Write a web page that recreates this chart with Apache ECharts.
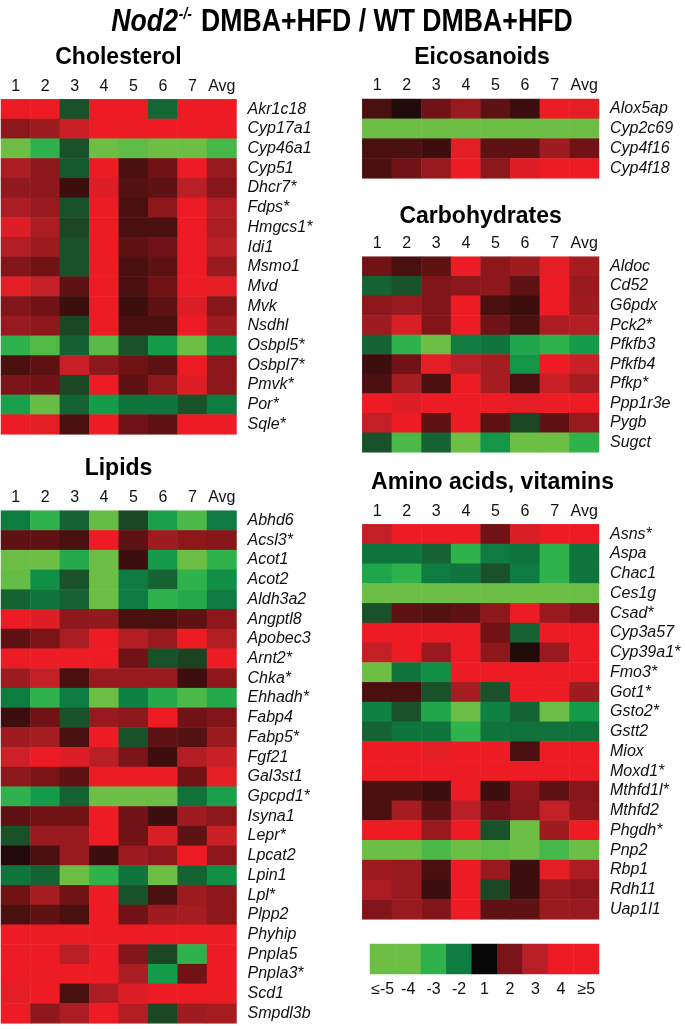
<!DOCTYPE html>
<html><head><meta charset="utf-8">
<script src="https://cdn.jsdelivr.net/npm/echarts@6.0.0/dist/echarts.min.js"></script>
<style>html,body{margin:0;padding:0;background:#fff}#c{width:685px;height:1029px}</style>
</head><body><div id="c"></div>
<script>
// ---- data (fold change readings, Nod2-/- vs WT) ----
const columns = ['1','2','3','4','5','6','7','Avg'];
const legendTicks = ['≤-5','-4','-3','-2','1','2','3','4','≥5'];
const legendValues = [-5,-4,-3,-2,1,2,3,4,5];

const cholGenes = ['Akr1c18','Cyp17a1','Cyp46a1','Cyp51','Dhcr7*','Fdps*','Hmgcs1*','Idi1','Msmo1','Mvd','Mvk','Nsdhl','Osbpl5*','Osbpl7*','Pmvk*','Por*','Sqle*'];
const cholValues = [
 [5,5,-0.8,5,5,-1.4,5,5],
 [2.3,2.6,3.3,5,5,5,5,5],
 [-5,-3,-0.8,-5,-3.8,-5,-5,-3.4],
 [2.8,2.3,-1.0,5,1.5,1.9,5,2.5],
 [2.4,2.3,1.4,3.7,1.6,1.7,3,2.2],
 [2.8,2.5,-0.8,5,1.5,2.3,5,2.9],
 [3.7,2.8,-0.5,5,1.5,1.5,5,2.8],
 [2.9,2.6,-0.8,5,1.7,1.9,5,3],
 [2.1,1.9,-0.8,5,1.5,1.7,5,2.5],
 [3.8,3.2,1.7,5,1.5,1.9,5,3.8],
 [2.1,1.9,1.4,5,1.4,1.7,3.7,2.2],
 [2.5,2.3,-0.5,5,1.5,1.5,5,2.6],
 [-3,-3.6,-1.2,-3.7,-0.8,-2.5,-5,-2.3],
 [1.5,1.7,3.3,2.3,1.9,1.7,5,2.3],
 [2,1.9,-0.5,5,1.7,2.3,3.7,2.3],
 [-2.6,-3.9,-1.3,-2.5,-1.8,-1.8,-0.8,-2],
 [5,3.8,1.5,5,1.9,1.7,5,5]
];

const lipidGenes = ['Abhd6','Acsl3*','Acot1','Acot2','Aldh3a2','Angptl8','Apobec3','Arnt2*','Chka*','Ehhadh*','Fabp4','Fabp5*','Fgf21','Gal3st1','Gpcpd1*','Isyna1','Lepr*','Lpcat2','Lpin1','Lpl*','Plpp2','Phyhip','Pnpla5','Pnpla3*','Scd1','Smpdl3b'];
const lipidValues = [
 [-2,-3,-1.3,-3.9,-0.5,-2.6,-3.5,-2],
 [1.7,1.7,1.5,5,1.7,2.6,2.3,2.2],
 [-5,-5,-2.8,-5,1.4,-2.5,-4.5,-3],
 [-3.9,-2.3,-0.8,-5,-2,-1.3,-3,-2.3],
 [-1.3,-1.8,-1.3,-5,-2,-3,-2.8,-2],
 [5,3.7,2.3,2.4,1.5,1.5,1.7,2.3],
 [1.7,2,2.8,5,2.9,2.5,5,2.9],
 [5,5,5,5,1.9,-0.8,-0.4,5],
 [2.6,3.2,1.5,2.5,2.5,2.5,1.4,2.3],
 [-2,-3,-2,-5,-2.1,-2.8,-3.5,-2.8],
 [1.4,1.9,-0.8,2.5,2.3,5,1.9,2.1],
 [2.6,2.7,1.5,5,-0.8,1.7,1.6,2.5],
 [3.4,5,3.7,3,2,1.4,2.9,3.3],
 [2.3,2,1.7,5,5,5,1.9,3.8],
 [-3,-2.5,-1.3,-5,-5,-5,-1.7,-2.6],
 [1.7,1.9,1.9,5,1.9,1.4,2.6,2.3],
 [-0.8,2.5,2.5,5,1.9,3.6,1.7,3.3],
 [1.2,1.5,2.5,1.4,2.6,2.3,5,2.3],
 [-1.8,-1.3,-5,-3,-1.8,-5,-1.3,-2.3],
 [1.9,2.7,1.9,5,-0.8,1.5,2.6,2.3],
 [1.5,1.7,1.5,5,1.9,2.6,2.7,2.3],
 [5,5,5,5,5,5,5,5],
 [5,5,3,5,2.1,-0.5,-3,5],
 [5,5,5,5,2.8,-2.5,1.9,5],
 [3.8,5,1.5,2.8,3.7,5,5,5],
 [5,2.3,2.8,5,2.9,-0.5,2.6,2.7]
];

const eicoGenes = ['Alox5ap','Cyp2c69','Cyp4f16','Cyp4f18'];
const eicoValues = [
 [1.5,1.2,1.9,2.5,1.7,1.4,5,3.8],
 [-5,-5,-5,-5,-5,-5,-5,-5],
 [1.5,1.5,1.4,3.8,1.7,1.7,2.6,1.9],
 [1.5,1.9,2.5,5,2.3,3.7,5,5]
];

const carbGenes = ['Aldoc','Cd52','G6pdx','Pck2*','Pfkfb3','Pfkfb4','Pfkp*','Ppp1r3e','Pygb','Sugct'];
const carbValues = [
 [1.9,1.5,1.7,5,2.3,2.6,3.8,2.7],
 [-1.3,-0.8,2.1,2.3,2.3,1.7,5,2.5],
 [2.3,2.5,2.1,5,1.5,1.4,5,2.6],
 [2.6,3.6,2.1,5,1.9,1.5,2.8,2.9],
 [-1.3,-3,-5,-2,-1.8,-2.7,-3,-2.5],
 [1.4,1.9,3.8,3,2.7,-2.4,5,3.3],
 [1.5,2.7,1.5,5,2.7,1.5,3.3,2.7],
 [5,3.7,5,5,5,3.8,5,5],
 [3.2,5,1.7,5,1.7,-0.5,1.7,2.5],
 [-0.8,-3.5,-1.3,-5,-2.4,-5,-5,-3]
];

const aminoGenes = ['Asns*','Aspa','Chac1','Ces1g','Csad*','Cyp3a57','Cyp39a1*','Fmo3*','Got1*','Gsto2*','Gstt2','Miox','Moxd1*','Mthfd1l*','Mthfd2','Phgdh*','Pnp2','Rbp1','Rdh11','Uap1l1'];
const aminoValues = [
 [3.2,5,5,5,1.9,3.6,5,5],
 [-1.8,-1.8,-1.3,-3,-2,-1.8,-3,-1.8],
 [-2.7,-3,-2,-1.8,-0.8,-2,-3,-1.8],
 [-5,-5,-5,-5,-5,-5,-5,-5],
 [-0.8,1.7,1.6,1.7,2.3,5,2.5,2.1],
 [5,5,5,5,1.9,-1.3,5,5],
 [3.2,5,2.5,5,2.3,1.2,2.5,5],
 [-5,-1.8,-2.3,5,5,5,5,5],
 [1.5,1.5,-0.8,2.7,-0.8,5,5,2.6],
 [-2.1,-0.8,-2.7,-5,-2.1,-1.3,-5,-2.5],
 [-1.3,-1.8,-1.8,-3,-1.8,-1.7,-1.7,-1.7],
 [5,5,3.8,5,5,1.5,5,5],
 [5,5,5,5,5,5,5,5],
 [1.5,1.5,1.4,5,1.4,2.3,1.7,2.2],
 [1.5,2.7,1.7,3,1.9,2.2,3.2,2.3],
 [5,5,2.5,5,-0.8,-5,2.6,5],
 [-5,-5,-3.5,-5,-3.8,-5,-3.4,-5],
 [2.6,2.5,1.5,5,2.5,1.4,3.8,2.8],
 [2.8,2.5,1.4,5,-0.5,1.4,2.5,2.3],
 [2.1,2.5,2.1,5,1.7,1.7,2.5,2.5]
];

// ---- layout / style ----
const FONT = '"Liberation Sans", Arial, sans-serif';
// colour stops at every half step of the evenly spaced legend scale (0..8)
const scaleColors = ['#6cbe45','#6cbe45','#6cbe45','#4cb848','#2fb24b','#159c4a','#0e7c41','#1c4724','#060606',
                     '#4a1010','#7b1418','#981a1e','#b81f26','#d42027','#ed1c24','#ed1c24','#ed1c24'];
// position of a fold-change value on the evenly spaced legend scale (0..8)
function toSlot(f){
  if (f >= 1) return Math.min(8, f + 3);
  if (f <= -2) return Math.max(0, f + 5);
  return 3 + (f + 2) / 3;
}

const panels = [
  {title:'Cholesterol', genes:cholGenes, values:cholValues, box:[1,99.3,235.5,335], tx:118.5, ty:58},
  {title:'Lipids', genes:lipidGenes, values:lipidValues, box:[1,510.7,235.5,512.6], tx:118.5, ty:469},
  {title:'Eicosanoids', genes:eicoGenes, values:eicoValues, box:[362.3,99,236.7,79.3], tx:482, ty:58},
  {title:'Carbohydrates', genes:carbGenes, values:carbValues, box:[362.3,256.7,236.7,195.6], tx:480.6, ty:216.7},
  {title:'Amino acids, vitamins', genes:aminoGenes, values:aminoValues, box:[362.3,524.3,236.7,395], tx:492.5, ty:482.7}
];
const legendBox = [370,944,229,30];

const grids = [], xAxes = [], yAxes = [], series = [], graphics = [];
panels.forEach((p, i) => {
  grids.push({left:p.box[0], top:p.box[1], width:p.box[2], height:p.box[3]});
  xAxes.push({type:'category', gridIndex:i, data:columns, position:'top',
    axisLine:{show:false}, axisTick:{show:false}, splitLine:{show:false},
    axisLabel:{fontSize:16, color:'#111', margin:5, fontFamily:FONT, interval:0}});
  yAxes.push({type:'category', gridIndex:i, data:p.genes, inverse:true, position:'right',
    axisLine:{show:false}, axisTick:{show:false}, splitLine:{show:false},
    axisLabel:{fontSize:16, fontStyle:'italic', color:'#111', margin:11, fontFamily:FONT, interval:0}});
  const data = [];
  p.values.forEach((row, r) => row.forEach((v, c) => data.push([c, r, toSlot(v), v])));
  series.push({type:'heatmap', xAxisIndex:i, yAxisIndex:i, data:data,
    itemStyle:{borderWidth:0}, emphasis:{disabled:true}, progressive:0});
  graphics.push({type:'text', x:p.tx, y:p.ty, style:{text:p.title, font:'bold 23px ' + FONT,
    fill:'#000', align:'center', verticalAlign:'middle'}});
});
// legend strip
const li = panels.length;
grids.push({left:legendBox[0], top:legendBox[1], width:legendBox[2], height:legendBox[3]});
xAxes.push({type:'category', gridIndex:li, data:legendTicks, position:'bottom',
  axisLine:{show:false}, axisTick:{show:false}, splitLine:{show:false},
  axisLabel:{fontSize:16, color:'#111', margin:8, fontFamily:FONT, interval:0}});
yAxes.push({type:'category', gridIndex:li, data:['scale'], show:false});
series.push({type:'heatmap', xAxisIndex:li, yAxisIndex:li,
  data:legendValues.map((v, k) => [k, 0, toSlot(v), v]),
  itemStyle:{borderWidth:0}, emphasis:{disabled:true}, progressive:0});

// main title (slightly condensed bold face, as in the figure)
graphics.push({type:'text', x:342, y:22, scaleX:0.86, style:{
  text:'{i|Nod2}{s|-/-}{b| DMBA+HFD / WT DMBA+HFD}',
  align:'center', verticalAlign:'middle', fill:'#000',
  rich:{
    i:{font:'italic bold 31px ' + FONT, fill:'#000'},
    s:{font:'italic bold 16px ' + FONT, fill:'#000', verticalAlign:'top', padding:[0,2,15,1]},
    b:{font:'bold 31px ' + FONT, fill:'#000'}
  }}});

const chart = echarts.init(document.getElementById('c'), null, {renderer:'canvas'});
chart.setOption({
  animation:false,
  backgroundColor:'#fff',
  grid:grids, xAxis:xAxes, yAxis:yAxes, series:series,
  visualMap:{type:'continuous', min:0, max:8, dimension:2, show:false,
    seriesIndex:series.map((s, k) => k), inRange:{color:scaleColors}},
  graphic:graphics
});
</script></body></html>
